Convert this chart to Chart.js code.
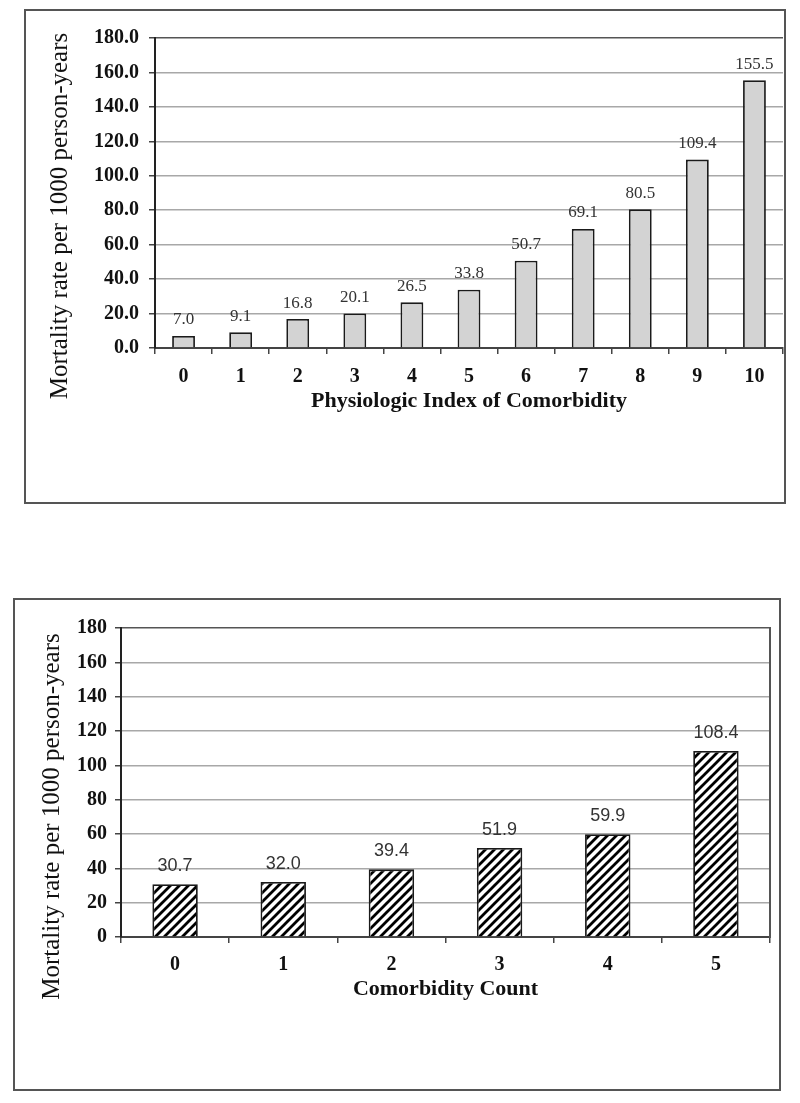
<!DOCTYPE html>
<html><head><meta charset="utf-8">
<script src="https://cdn.jsdelivr.net/npm/chart.js@4"></script>
<style>
html,body{margin:0;padding:0;background:#fff;}
body{width:800px;height:1103px;position:relative;overflow:hidden;}
.box{position:absolute;border:2px solid #555;box-sizing:border-box;background:#fff;}
#box1{left:24px;top:9px;width:762px;height:495px;}
#box2{left:13px;top:598px;width:768px;height:493px;}
canvas{display:block;}
</style></head><body>
<div class="box" id="box1"><canvas id="c1" width="758" height="491" style="width:758px;height:491px"></canvas></div>
<div class="box" id="box2"><canvas id="c2" width="764" height="489" style="width:764px;height:489px"></canvas></div>
<script>
// ---- data ----
const piCategories = ['0','1','2','3','4','5','6','7','8','9','10'];
const piRates = [7.0, 9.1, 16.8, 20.1, 26.5, 33.8, 50.7, 69.1, 80.5, 109.4, 155.5];
const countCategories = ['0','1','2','3','4','5'];
const countRates = [30.7, 32.0, 39.4, 51.9, 59.9, 108.4];
const yTickValues = [0, 20, 40, 60, 80, 100, 120, 140, 160, 180];
const yTitleText = 'Mortality rate per 1000 person-years';
const piXTitle = 'Physiologic Index of Comorbidity';
const countXTitle = 'Comorbidity Count';

const SERIF = "'Liberation Serif','Times New Roman',serif";
const SANS = "'Liberation Sans',Arial,sans-serif";

const yTitlePlugin = {
  id: 'yTitle',
  afterDraw(chart, args, o) {
    const ctx = chart.ctx;
    const a = chart.chartArea;
    ctx.save();
    ctx.translate(o.x, (a.top + a.bottom) / 2 + o.dy);
    ctx.rotate(-Math.PI / 2);
    ctx.font = o.font;
    ctx.fillStyle = '#111';
    ctx.textAlign = 'center';
    ctx.textBaseline = 'middle';
    ctx.fillText(o.text, 0, 0);
    ctx.restore();
  }
};
const valueLabelPlugin = {
  id: 'valueLabels',
  afterDatasetsDraw(chart, args, o) {
    const ctx = chart.ctx;
    const meta = chart.getDatasetMeta(0);
    const vals = chart.data.datasets[0].data;
    ctx.save();
    ctx.font = o.font;
    ctx.fillStyle = '#333';
    ctx.textAlign = 'center';
    ctx.textBaseline = 'middle';
    meta.data.forEach((bar, i) => {
      ctx.fillText(vals[i].toFixed(1), bar.x, bar.y - o.offset);
    });
    ctx.restore();
  }
};

function makeHatch(ctx) {
  const n = 9;
  const c = document.createElement('canvas');
  c.width = n; c.height = n;
  const g = c.getContext('2d');
  g.fillStyle = '#fff'; g.fillRect(0, 0, n, n);
  g.strokeStyle = '#000'; g.lineWidth = 2.8;
  g.beginPath();
  g.moveTo(-1, n + 1); g.lineTo(n + 1, -1);
  g.moveTo(-4, 4); g.lineTo(4, -4);
  g.moveTo(n - 4, n + 4); g.lineTo(n + 4, n - 4);
  g.stroke();
  return ctx.createPattern(c, 'repeat');
}

function buildChart(canvasId, cfg) {
  const canvas = document.getElementById(canvasId);
  const ctx = canvas.getContext('2d');
  const scales = {
    x: {
      type: 'category',
      offset: true,
      grid: { offset: true, drawOnChartArea: false, drawTicks: true, tickLength: 6, color: '#444', lineWidth: 1.5 },
      border: { display: true, color: '#444', width: 2 },
      ticks: { color: '#111', padding: cfg.xTickPad, font: { family: SERIF, size: cfg.xTickSize, weight: 'bold' }, maxRotation: 0, autoSkip: false },
      title: { display: true, text: cfg.xTitle, color: '#111', padding: 0, font: { family: SERIF, size: 22, weight: 'bold' } },
      afterFit: s => { s.height = cfg.xHeight; }
    },
    y: {
      min: 0, max: 180,
      afterBuildTicks: s => { s.ticks = yTickValues.map(v => ({ value: v })); },
      grid: {
        color: c => (c.tick && c.tick.value === 180) ? '#555' : '#a8a8a8',
        lineWidth: 1.5, drawTicks: true, tickLength: 6, tickColor: '#444'
      },
      border: { display: true, color: '#222', width: 2 },
      ticks: { color: '#111', padding: cfg.yTickPad, font: { family: SERIF, size: cfg.yTickSize, weight: 'bold' }, callback: cfg.yFmt },
      title: { display: false },
      afterFit: s => { s.width = cfg.yWidth; }
    }
  };
  if (cfg.rightBorder) {
    scales.yR = {
      position: 'right', min: 0, max: 180,
      grid: { display: false },
      ticks: { display: false },
      border: { display: true, color: '#555', width: 2 },
      afterFit: s => { s.width = 0; }
    };
  }
  return new Chart(ctx, {
    type: 'bar',
    data: {
      labels: cfg.labels,
      datasets: [{
        data: cfg.values,
        backgroundColor: cfg.hatch ? makeHatch(ctx) : '#d3d3d3',
        borderColor: '#1a1a1a',
        borderWidth: 1.8,
        borderSkipped: 'bottom',
        categoryPercentage: 1,
        barPercentage: cfg.barPct
      }]
    },
    options: {
      responsive: false,
      animation: false,
      devicePixelRatio: 1,
      layout: { padding: cfg.padding },
      plugins: {
        legend: { display: false },
        tooltip: { enabled: false },
        yTitle: { text: yTitleText, x: cfg.yTitleX, dy: cfg.yTitleDy, font: '25px ' + SERIF },
        valueLabels: { font: cfg.labelFont, offset: cfg.labelOffset }
      },
      scales
    },
    plugins: [yTitlePlugin, valueLabelPlugin]
  });
}

buildChart('c1', {
  labels: piCategories, values: piRates, hatch: false, barPct: 0.40,
  xTitle: piXTitle, xTickSize: 20, xTickPad: 11, xHeight: 67,
  yTickSize: 20, yTickPad: 10, yWidth: 129, yFmt: v => Number(v).toFixed(1),
  padding: { left: 0, right: 1, top: 27, bottom: 87 },
  yTitleX: 34, yTitleDy: 23,
  labelFont: '17px ' + SERIF, labelOffset: 16,
  rightBorder: false
});
buildChart('c2', {
  labels: countCategories, values: countRates, hatch: true, barPct: 0.42,
  xTitle: countXTitle, xTickSize: 20, xTickPad: 10, xHeight: 66,
  yTickSize: 20, yTickPad: 8, yWidth: 106, yFmt: v => String(v),
  padding: { left: 0, right: 9, top: 28, bottom: 86 },
  yTitleX: 37, yTitleDy: 34,
  labelFont: '18px ' + SANS, labelOffset: 18,
  rightBorder: true
});
</script>
</body></html>
